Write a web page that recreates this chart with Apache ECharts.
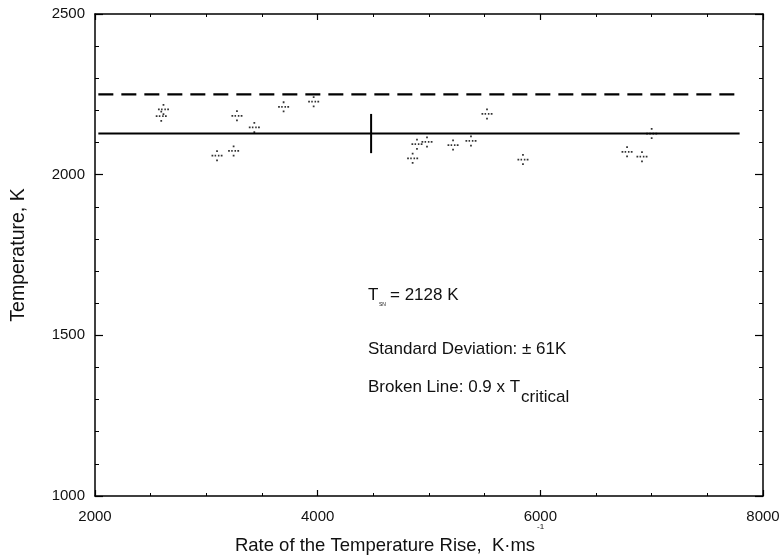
<!DOCTYPE html>
<html><head><meta charset="utf-8">
<script src="https://cdn.jsdelivr.net/npm/echarts@6/dist/echarts.min.js"></script>
<style>html,body{margin:0;padding:0;background:#fff}#c{width:782px;height:556px}</style>
</head><body><div id="c"></div>
<script>
// Data
const rateX = [2615, 2595, 3275, 3431, 3694, 3964, 3096, 3245, 5521, 4892, 4982, 5216, 5377, 4853, 5844, 6779, 6913, 7000];
const tempY = [2203, 2182, 2183, 2147, 2211, 2227, 2059, 2074, 2189, 2095, 2102, 2092, 2105, 2051, 2047, 2071, 2056, 2128];
const meanLineX = [2030, 7790];
const meanT = 2128;
const criticalLineX = [2030, 7790];
const criticalT = 2250;
const sdX = 4480;
const sd = 61;
const xTicks = [2000, 4000, 6000, 8000];
const yTicks = [1000, 1500, 2000, 2500];

const font = 'Liberation Sans, Arial, Helvetica, sans-serif';
const points = rateX.map((x, i) => [x, tempY[i]]);
const dotCross = 'path://M4.2,0h1.6v1.6h-1.6z M4.2,8.4h1.6v1.6h-1.6z M0,4.2h1.6v1.6h-1.6z M8.4,4.2h1.6v1.6h-1.6z M2.8,4.2h1.4v1.6h-1.4z M5.8,4.2h1.4v1.6h-1.4z';

const chart = echarts.init(document.getElementById('c'));
const axisCommon = {
  axisLine: {show: true, onZero: false, lineStyle: {color: '#000', width: 1.5}},
  splitLine: {show: false},
  minorSplitLine: {show: false}
};
const plain = v => String(v);
chart.setOption({
  animation: false,
  backgroundColor: '#fff',
  grid: {left: 95, right: 19, top: 14, bottom: 60, containLabel: false, outerBoundsMode: 'none'},
  xAxis: [
    Object.assign({}, axisCommon, {
      type: 'value', min: xTicks[0], max: xTicks[xTicks.length - 1], interval: 2000, position: 'bottom',
      axisTick: {show: true, inside: true, length: 6, lineStyle: {color: '#000', width: 1.2}},
      minorTick: {show: true, splitNumber: 4, length: 3, lineStyle: {color: '#000', width: 1}},
      axisLabel: {color: '#111', fontSize: 15, fontFamily: font, margin: 13, formatter: plain},
      name: 'Rate of the Temperature Rise,  K\u00B7ms', nameLocation: 'middle', nameGap: 40,
      nameTextStyle: {color: '#111', fontSize: 18.5, fontFamily: font, padding: [0, 88, 0, 0]}
    }),
    Object.assign({}, axisCommon, {
      type: 'value', min: xTicks[0], max: xTicks[xTicks.length - 1], interval: 2000, position: 'top',
      axisTick: {show: true, inside: true, length: 6, lineStyle: {color: '#000', width: 1.2}},
      minorTick: {show: true, splitNumber: 4, length: 3, lineStyle: {color: '#000', width: 1}},
      axisLabel: {show: false}
    })
  ],
  yAxis: [
    Object.assign({}, axisCommon, {
      type: 'value', min: yTicks[0], max: yTicks[yTicks.length - 1], interval: 500, position: 'left',
      axisTick: {show: true, inside: true, length: 8, lineStyle: {color: '#000', width: 1.2}},
      minorTick: {show: true, splitNumber: 5, length: 4, lineStyle: {color: '#000', width: 1}},
      axisLabel: {color: '#111', fontSize: 15, fontFamily: font, margin: 10, formatter: plain},
      name: 'Temperature, K', nameLocation: 'middle', nameGap: 66, nameRotate: 90,
      nameTextStyle: {color: '#111', fontSize: 19.5, fontFamily: font}
    }),
    Object.assign({}, axisCommon, {
      type: 'value', min: yTicks[0], max: yTicks[yTicks.length - 1], interval: 500, position: 'right',
      axisTick: {show: true, inside: true, length: 8, lineStyle: {color: '#000', width: 1.2}},
      minorTick: {show: true, splitNumber: 5, length: 4, lineStyle: {color: '#000', width: 1}},
      axisLabel: {show: false}
    })
  ],
  series: [
    {type: 'line', data: meanLineX.map(x => [x, meanT]), symbol: 'none',
     lineStyle: {color: '#000', width: 2}, silent: true},
    {type: 'line', data: criticalLineX.map(x => [x, criticalT]), symbol: 'none',
     lineStyle: {color: '#000', width: 2.2, type: [15, 8]}, silent: true},
    {type: 'line', data: [[sdX, meanT - sd], [sdX, meanT + sd]], symbol: 'none',
     lineStyle: {color: '#000', width: 2}, silent: true},
    {type: 'scatter', data: points, symbol: dotCross, symbolSize: 11,
     itemStyle: {color: '#000'}}
  ],
  graphic: [
    {type: 'text', left: 368, top: 287, style: {text: 'T', fontSize: 17, fontFamily: font, fill: '#111'}},
    {type: 'text', left: 379, top: 302, style: {text: 'SN', fontSize: 5, fontFamily: font, fill: '#111'}},
    {type: 'text', left: 390, top: 287, style: {text: '= 2128 K', fontSize: 17, fontFamily: font, fill: '#111'}},
    {type: 'text', left: 368, top: 341, style: {text: 'Standard Deviation: \u00B1 61K', fontSize: 17, fontFamily: font, fill: '#111'}},
    {type: 'text', left: 368, top: 379, style: {text: 'Broken Line: 0.9 x T', fontSize: 17, fontFamily: font, fill: '#111'}},
    {type: 'text', left: 521, top: 389, style: {text: 'critical', fontSize: 17, fontFamily: font, fill: '#111'}},
    {type: 'text', left: 537, top: 523, style: {text: '-1', fontSize: 8, fontFamily: font, fill: '#111'}}
  ]
});
</script></body></html>
